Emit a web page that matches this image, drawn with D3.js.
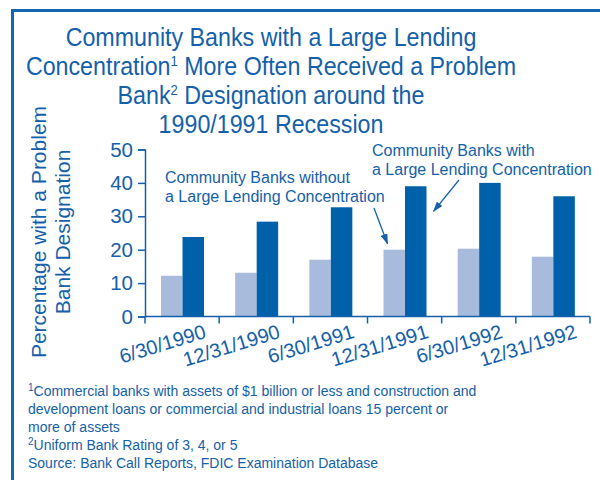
<!DOCTYPE html>
<html>
<head>
<meta charset="utf-8">
<script src="https://cdn.jsdelivr.net/npm/d3@7"></script>
<style>
	body { margin: 0; background: #fff; }
	svg { display: block; font-family: Arial, "Liberation Sans", sans-serif; }
</style>
</head>
<body>
<svg id="chart" width="600" height="480"></svg>
<script>
/*	Chart data ------------------------------------------------------------------*/
var dates = ["6/30/1990", "12/31/1990", "6/30/1991", "12/31/1991", "6/30/1992", "12/31/1992"];
var withoutConc = [12.2, 13.1, 17.0, 20.0, 20.3, 17.9];
var withConc = [23.8, 28.4, 32.7, 39.0, 40.0, 36.0];
var yTicks = [0, 10, 20, 30, 40, 50];
var seriesNames = ["without", "with"];

var textBlue = "#1560aa";
var lightBar = "#a9bbdc";
var darkBar = "#0060aa";

var svg = d3.select("#chart");

/*	Frame ----------------------------------------------------------------------*/
svg.append("path")
	.attr("d", "M12.5,480 V10.5 H600")
	.attr("fill", "none")
	.attr("stroke", "#1565b0")
	.attr("stroke-width", 3);

/*	Title (slightly condensed like the original) -------------------------------*/
var title = svg.append("text")
	.attr("text-anchor", "middle")
	.attr("transform", "translate(271,0) scale(0.93,1)")
	.attr("fill", textBlue)
	.attr("font-size", "25px");
var titleLines = [
	[["Community Banks with a Large Lending", false]],
	[["Concentration", false], ["1", true], [" More Often Received a Problem", false]],
	[["Bank", false], ["2", true], [" Designation around the", false]],
	[["1990/1991 Recession", false]]
];
titleLines.forEach(function(line, i) {
	var t = title.append("tspan").attr("x", 0).attr("y", 46 + i * 29);
	line.forEach(function(part, j) {
		var s = t.append("tspan").text(part[0]);
		if (part[1]) s.attr("font-size", "14px").attr("dy", -9);
		else if (j > 0) s.attr("dy", 9);
	});
});

/*	Scales ---------------------------------------------------------------------*/
var margin = { left: 145, right: 590, top: 149.5, bottom: 316.5 };
var x = d3.scaleBand().domain(dates).range([margin.left, margin.right]);
var xInner = d3.scaleBand().domain(seriesNames)
	.range([16, 59]);
var y = d3.scaleLinear().domain([0, 50]).range([margin.bottom, margin.top]);

/*	Bars -----------------------------------------------------------------------*/
var groups = svg.append("g").selectAll("g")
	.data(dates)
	.enter()
	.append("g")
	.attr("transform", function(d) { return "translate(" + x(d) + ",0)"; });

groups.append("rect")
	.attr("x", xInner("without"))
	.attr("width", xInner.bandwidth())
	.attr("y", function(d, i) { return y(withoutConc[i]); })
	.attr("height", function(d, i) { return y(0) - y(withoutConc[i]); })
	.attr("fill", lightBar);

groups.append("rect")
	.attr("x", xInner("with"))
	.attr("width", xInner.bandwidth())
	.attr("y", function(d, i) { return y(withConc[i]); })
	.attr("height", function(d, i) { return y(0) - y(withConc[i]); })
	.attr("fill", darkBar);

/*	Y axis ---------------------------------------------------------------------*/
var yAxis = svg.append("g")
	.attr("transform", "translate(" + margin.left + ",0)")
	.call(d3.axisLeft(y).tickValues(yTicks).tickSize(7).tickPadding(5));
yAxis.select(".domain").attr("stroke", textBlue).attr("stroke-width", 1.5);
yAxis.selectAll(".tick line").attr("stroke", textBlue).attr("stroke-width", 1.5);
yAxis.selectAll(".tick text")
	.attr("fill", textBlue)
	.attr("font-size", "20.5px")
	.attr("font-family", "Arial, 'Liberation Sans', sans-serif");

/*	X axis ---------------------------------------------------------------------*/
var xAxis = svg.append("g")
	.attr("transform", "translate(0," + margin.bottom + ")");
xAxis.append("line")
	.attr("x1", margin.left).attr("x2", margin.right)
	.attr("stroke", textBlue).attr("stroke-width", 1.5);
xAxis.selectAll("line.sep")
	.data(dates.concat(["end"]))
	.enter()
	.append("line")
	.attr("class", "sep")
	.attr("x1", function(d) { return d === "end" ? margin.right : x(d); })
	.attr("x2", function(d) { return d === "end" ? margin.right : x(d); })
	.attr("y1", 0).attr("y2", 7)
	.attr("stroke", textBlue).attr("stroke-width", 1.5);
xAxis.selectAll("text")
	.data(dates)
	.enter()
	.append("text")
	.attr("text-anchor", "end")
	.attr("transform", function(d) {
		return "translate(" + (x(d) + x.bandwidth() / 2 + 25) + ",21) rotate(-17)";
	})
	.attr("fill", textBlue)
	.attr("font-size", "20px")
	.text(function(d) { return d; });

/*	Y axis title ---------------------------------------------------------------*/
var yTitle = svg.append("text")
	.attr("transform", "translate(0,232) rotate(-90)")
	.attr("text-anchor", "middle")
	.attr("fill", textBlue)
	.attr("font-size", "21px");
yTitle.append("tspan").attr("x", 0).attr("y", 46).text("Percentage with a Problem");
yTitle.append("tspan").attr("x", 0).attr("y", 70).text("Bank Designation");

/*	Annotations ----------------------------------------------------------------*/
var notes = [
	{ x: 165, y: 183, lines: ["Community Banks without", "a Large Lending Concentration"] },
	{ x: 372, y: 156, lines: ["Community Banks with", "a Large Lending Concentration"] }
];
notes.forEach(function(n) {
	var t = svg.append("text").attr("fill", textBlue).attr("font-size", "16px");
	n.lines.forEach(function(l, i) {
		t.append("tspan").attr("x", n.x).attr("y", n.y + i * 19).text(l);
	});
});

svg.append("defs").append("marker")
	.attr("id", "arrow")
	.attr("viewBox", "0 0 12 8")
	.attr("refX", 11).attr("refY", 4)
	.attr("markerWidth", 11).attr("markerHeight", 7)
	.attr("markerUnits", "userSpaceOnUse")
	.attr("orient", "auto")
	.append("path")
	.attr("d", "M0,0 L12,4 L0,8 Z")
	.attr("fill", textBlue);

// arrows point at the bars of 12/31/1991
var bx = x("12/31/1991");
svg.append("line")
	.attr("x1", 374).attr("y1", 208)
	.attr("x2", bx + xInner("without") + 4).attr("y2", y(withoutConc[3]) - 6)
	.attr("stroke", textBlue).attr("stroke-width", 1.3)
	.attr("marker-end", "url(#arrow)");
svg.append("line")
	.attr("x1", 459).attr("y1", 180)
	.attr("x2", bx + xInner("with") + xInner.bandwidth() + 7).attr("y2", y(30) - 5)
	.attr("stroke", textBlue).attr("stroke-width", 1.3)
	.attr("marker-end", "url(#arrow)");

/*	Footnotes ------------------------------------------------------------------*/
var foot = svg.append("text").attr("fill", textBlue).attr("font-size", "14px");
var footLines = [
	[["1", true], ["Commercial banks with assets of $1 billion or less and construction and", false]],
	[["development loans or commercial and industrial loans 15 percent or", false]],
	[["more of assets", false]],
	[["2", true], ["Uniform Bank Rating of 3, 4, or 5", false]],
	[["Source: Bank Call Reports, FDIC Examination Database", false]]
];
footLines.forEach(function(line, i) {
	var t = foot.append("tspan").attr("x", 28).attr("y", 396 + i * 18);
	line.forEach(function(part, j) {
		var s = t.append("tspan").text(part[0]);
		if (part[1]) s.attr("font-size", "10px").attr("dy", -5);
		else if (j > 0) s.attr("dy", 5);
	});
});
</script>
</body>
</html>
